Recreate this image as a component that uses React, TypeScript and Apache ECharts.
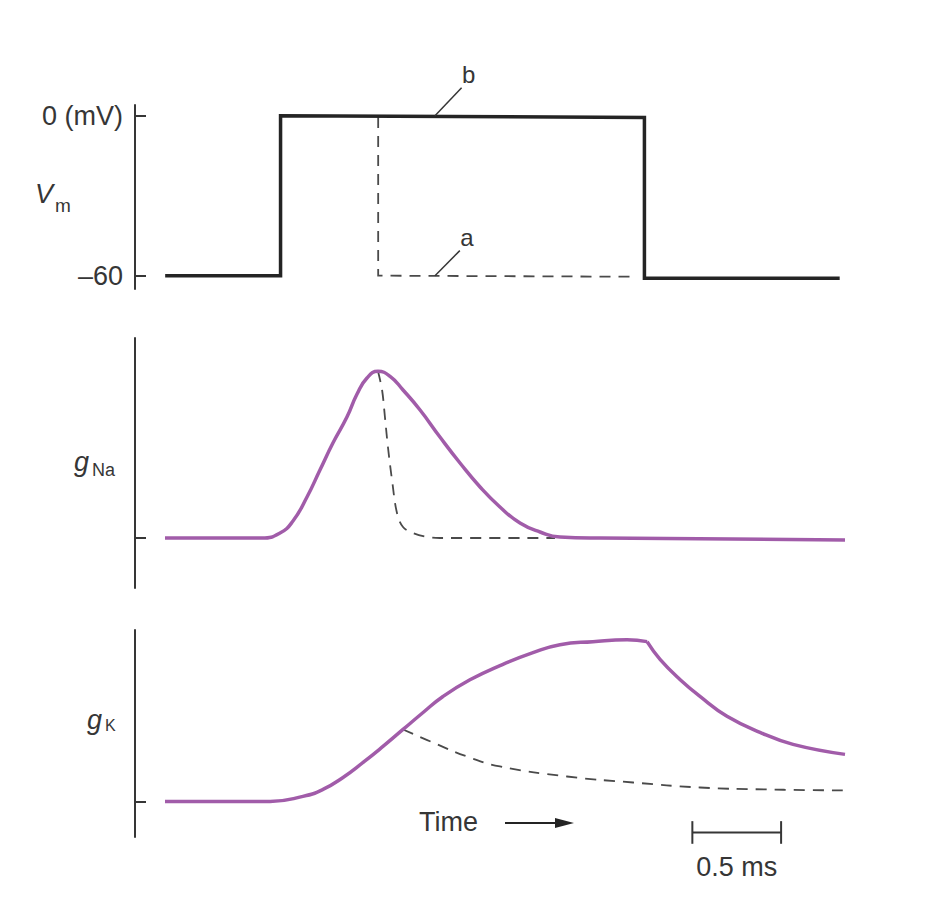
import React, { useEffect, useRef } from 'react';
import * as echarts from 'echarts';

// ---- Data (time in ms, x axis 0..4 ms) ----
// Membrane potential, trace b (long step) and trace a (short step)
const vmBT = [0.17, 0.82, 0.82, 2.87, 2.87, 3.97];
const vmBV = [-60, -60, 0, -0.7, -61, -61];
const vmAT = [1.37, 1.37, 2.83];
const vmAV = [-0.5, -60, -60.4];

// Sodium conductance (arbitrary units, peak = 100)
const gNaT = [0.169, 0.715, 0.817, 0.89, 0.969, 1.042, 1.115, 1.194, 1.251, 1.307, 1.369, 1.437, 1.51, 1.606, 1.718, 1.831, 1.944, 2.056, 2.169, 2.282, 2.394, 2.62, 4.0];
const gNaV = [0, 0, 3, 10.2, 24.6, 40.8, 57, 72.6, 86.4, 96, 100, 97, 88.8, 76.8, 60.6, 45, 30.6, 18.6, 9, 3.6, 0.6, 0, -1.2];
const gNaDashT = [1.369, 1.392, 1.408, 1.425, 1.448, 1.476, 1.51, 1.566, 1.645, 1.718, 2.366];
const gNaDashV = [100, 88.8, 72.6, 54.6, 34.8, 15, 6.6, 3, 0.6, 0, 0];

// Potassium conductance (arbitrary units, peak = 100)
const gKRiseT = [0.169, 0.761, 0.946, 1.059, 1.172, 1.285, 1.397, 1.51, 1.623, 1.735, 1.887, 2.056, 2.242, 2.394, 2.58, 2.772, 2.885];
const gKRiseV = [0, 0, 3.1, 7.4, 14.8, 24.1, 34, 44.5, 55, 64.9, 75.2, 84, 92, 96.9, 98.8, 100, 98.8];
const gKDecayT = [2.885, 2.958, 3.07, 3.183, 3.335, 3.521, 3.707, 4.0];
const gKDecayV = [98.8, 87.8, 75.4, 64.9, 52.6, 42.7, 35.3, 29.1];
const gKDashT = [1.51, 1.679, 1.87, 2.056, 2.434, 2.806, 3.183, 3.561, 4.0];
const gKDashV = [44.5, 36.4, 27.8, 21.6, 15.4, 11.7, 8.6, 7.4, 6.8];

// Tick labels
const vmTicks = [-60, 0];
const vmTickLabels = ['–60', '0 (mV)'];

// Scale bar (0.5 ms)
const scaleBarT = [3.14, 3.64];
const scaleBarLevel = -19.2;

const zip = (t: number[], v: number[]) => t.map((x, i) => [x, v[i]]);

const FONT = "'Liberation Sans', Arial, Helvetica, sans-serif";
const INK = '#363636';
const LINE_INK = '#242424';
const DASH_INK = '#4a4a4a';
const PURPLE = '#a15ca9';

function makeYAxis(grid: number, min: number, max: number, ticks: number[], labels: string[] | null) {
  return {
    type: 'value',
    gridIndex: grid,
    min,
    max,
    axisLine: { show: true, lineStyle: { color: INK, width: 2 } },
    axisTick: { show: true, inside: true, length: 11, customValues: ticks, lineStyle: { color: INK, width: 2 } },
    axisLabel: labels
      ? {
          show: true,
          customValues: ticks,
          formatter: (v: number) => labels[ticks.indexOf(v)] ?? '',
          fontSize: 27,
          color: INK,
          fontFamily: FONT,
          margin: 12,
        }
      : { show: false },
    splitLine: { show: false },
  };
}

function textPoint(grid: number, t: number, v: number, text: string, size: number) {
  return {
    type: 'scatter',
    xAxisIndex: grid,
    yAxisIndex: grid,
    symbolSize: 0.01,
    clip: false,
    silent: true,
    itemStyle: { color: INK, opacity: 1 },
    label: {
      show: true,
      position: 'inside',
      formatter: text,
      fontSize: size,
      color: INK,
      opacity: 1,
      fontFamily: FONT,
    },
    data: [[t, v]],
  };
}

export default function App() {
  const ref = useRef<HTMLDivElement>(null);
  useEffect(() => {
    if (!ref.current) return;
    const chart = echarts.init(ref.current, undefined, { renderer: 'svg' });
    const solid = (grid: number, data: number[][], color: string, width: number, smooth: number | boolean) => ({
      type: 'line',
      xAxisIndex: grid,
      yAxisIndex: grid,
      data,
      smooth,
      showSymbol: false,
      symbol: 'none',
      clip: false,
      silent: true,
      lineStyle: { color, width, type: 'solid', join: 'miter', cap: 'butt' },
    });
    const dashed = (grid: number, data: number[][], smooth: number | boolean) => ({
      type: 'line',
      xAxisIndex: grid,
      yAxisIndex: grid,
      data,
      smooth,
      showSymbol: false,
      symbol: 'none',
      clip: false,
      silent: true,
      lineStyle: { color: DASH_INK, width: 1.8, type: [11, 8], join: 'miter' },
    });

    const option = {
      animation: false,
      backgroundColor: '#ffffff',
      grid: [
        { left: 135, width: 710, top: 105, height: 184 },
        { left: 135, width: 710, top: 338, height: 250 },
        { left: 135, width: 710, top: 630, height: 207 },
      ],
      xAxis: [0, 1, 2].map((i) => ({ type: 'value', gridIndex: i, min: 0, max: 4, show: false })),
      yAxis: [
        makeYAxis(0, -65, 4, vmTicks, vmTickLabels),
        makeYAxis(1, -30, 120, [0], null),
        makeYAxis(2, -22, 106, [0], null),
      ],
      series: [
        // Vm
        dashed(0, zip(vmAT, vmAV), false),
        solid(0, zip(vmBT, vmBV), LINE_INK, 3.5, false),
        // leader lines for a / b
        solid(0, [[1.69, 0], [1.84, 10.5]], INK, 1.5, false),
        solid(0, [[1.69, -60], [1.83, -50.6]], INK, 1.5, false),
        textPoint(0, 1.88, 15.6, 'b', 24),
        textPoint(0, 1.87, -45.6, 'a', 24),
        // gNa
        dashed(1, zip(gNaDashT, gNaDashV), 0.35),
        solid(1, zip(gNaT, gNaV), PURPLE, 3.5, 0.5),
        // gK
        dashed(2, zip(gKDashT, gKDashV), 0.45),
        solid(2, zip(gKRiseT, gKRiseV), PURPLE, 3.5, 0.5),
        solid(2, zip(gKDecayT, gKDecayV), PURPLE, 3.5, 0.45),
        // scale bar
        solid(2, [[scaleBarT[0], scaleBarLevel], [scaleBarT[1], scaleBarLevel]], INK, 2, false),
        solid(2, [[scaleBarT[0], scaleBarLevel + 7], [scaleBarT[0], scaleBarLevel - 7]], INK, 2, false),
        solid(2, [[scaleBarT[1], scaleBarLevel + 7], [scaleBarT[1], scaleBarLevel - 7]], INK, 2, false),
        textPoint(2, (scaleBarT[0] + scaleBarT[1]) / 2, -40.4, '0.5 ms', 27),
      ],
      graphic: [
        { type: 'text', left: 35, top: 180, style: { text: 'V', font: `italic 27px ${FONT}`, fill: INK } },
        { type: 'text', left: 55, top: 196, style: { text: 'm', font: `19px ${FONT}`, fill: INK } },
        { type: 'text', left: 74, top: 448, style: { text: 'g', font: `italic 27px ${FONT}`, fill: INK } },
        { type: 'text', left: 92, top: 461, style: { text: 'Na', font: `18px ${FONT}`, fill: INK } },
        { type: 'text', left: 87, top: 706, style: { text: 'g', font: `italic 27px ${FONT}`, fill: INK } },
        { type: 'text', left: 105, top: 717, style: { text: 'K', font: `16px ${FONT}`, fill: INK } },
        { type: 'text', left: 419, top: 808, style: { text: 'Time', font: `27px ${FONT}`, fill: INK } },
        { type: 'line', shape: { x1: 505, y1: 823, x2: 560, y2: 823 }, style: { stroke: LINE_INK, lineWidth: 2 } },
        { type: 'polygon', shape: { points: [[555, 818], [574, 823], [555, 828]] }, style: { fill: LINE_INK } },
      ],
    };
    chart.setOption(option as any);
    return () => chart.dispose();
  }, []);
  return <div ref={ref} style={{ position: 'fixed', left: 0, top: 0, width: 950, height: 902 }} />;
}
